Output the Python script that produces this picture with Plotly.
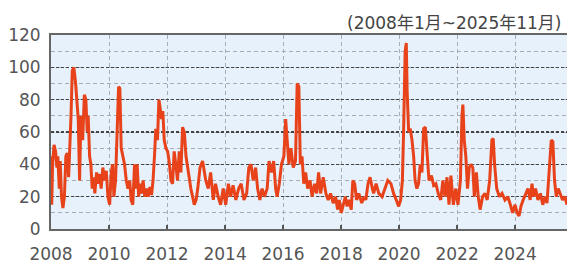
import plotly.graph_objects as go

dates = [
    "2008-01-01","2008-01-10","2008-01-21","2008-02-08","2008-02-28","2008-03-15","2008-03-27","2008-04-14",
    "2008-04-26","2008-05-12","2008-05-30","2008-06-18","2008-07-06","2008-07-23","2008-08-10","2008-08-26",
    "2008-09-09","2008-09-25","2008-10-15","2008-11-06","2008-11-23","2008-12-09","2008-12-26","2009-01-12",
    "2009-02-03","2009-02-24","2009-03-15","2009-04-01","2009-04-13","2009-05-01","2009-05-17","2009-06-03",
    "2009-06-21","2009-07-06","2009-07-28","2009-08-13","2009-09-03","2009-09-24","2009-10-15","2009-11-06",
    "2009-11-27","2009-12-18","2010-01-09","2010-01-29","2010-02-15","2010-03-03","2010-03-24","2010-04-13",
    "2010-05-01","2010-05-17","2010-06-03","2010-06-24","2010-07-15","2010-08-06","2010-08-27","2010-09-18",
    "2010-10-06","2010-10-27","2010-11-18","2010-12-06","2010-12-21","2011-01-09","2011-01-24","2011-02-15",
    "2011-03-06","2011-03-27","2011-04-18","2011-05-09","2011-05-30","2011-06-20","2011-07-09","2011-07-27",
    "2011-08-13","2011-09-03","2011-09-21","2011-10-06","2011-10-24","2011-11-09","2011-11-27","2011-12-18",
    "2012-01-09","2012-01-27","2012-02-20","2012-03-11","2012-03-31","2012-04-21","2012-05-12","2012-06-03",
    "2012-06-24","2012-07-15","2012-08-06","2012-08-27","2012-09-17","2012-10-06","2012-10-27","2012-11-18",
    "2012-12-09","2013-01-01","2013-01-22","2013-02-20","2013-03-24","2013-05-03","2013-06-03","2013-07-03",
    "2013-08-06","2013-09-03","2013-10-06","2013-11-06","2013-12-09","2014-01-09","2014-02-12","2014-03-12",
    "2014-04-12","2014-05-17","2014-06-21","2014-07-23","2014-08-27","2014-09-30","2014-10-27","2014-11-24",
    "2014-12-21","2015-01-21","2015-02-15","2015-03-15","2015-04-12","2015-05-12","2015-06-15","2015-07-09",
    "2015-08-09","2015-09-05","2015-09-30","2015-10-18","2015-11-15","2015-12-12","2016-01-12","2016-02-03",
    "2016-02-24","2016-03-15","2016-04-09","2016-05-09","2016-06-06","2016-06-27","2016-07-18","2016-08-06",
    "2016-08-27","2016-09-18","2016-10-12","2016-11-06","2016-12-06","2017-01-01","2017-02-01","2017-02-27",
    "2017-03-24","2017-04-18","2017-05-21","2017-06-24","2017-07-23","2017-08-21","2017-09-24","2017-10-24",
    "2017-11-18","2017-12-09","2018-01-03","2018-01-30","2018-02-24","2018-03-18","2018-04-12","2018-05-09",
    "2018-05-29","2018-06-21","2018-07-15","2018-08-12","2018-09-18","2018-10-15","2018-11-09","2018-12-06",
    "2019-01-01","2019-01-30","2019-02-15","2019-03-18","2019-04-21","2019-06-01","2019-07-09","2019-08-12",
    "2019-09-21","2019-10-24","2019-11-27","2019-12-27","2020-01-21","2020-02-12","2020-02-27","2020-03-18",
    "2020-04-01","2020-04-12","2020-05-01","2020-05-21","2020-06-12","2020-07-03","2020-07-21","2020-08-12",
    "2020-09-03","2020-09-24","2020-10-15","2020-11-06","2020-11-27","2020-12-18","2021-01-12","2021-02-12",
    "2021-03-12","2021-04-09","2021-05-09","2021-06-09","2021-07-06","2021-08-01","2021-08-27","2021-09-21",
    "2021-10-15","2021-11-15","2021-12-15","2022-01-12","2022-02-12","2022-03-03","2022-03-15","2022-04-01",
    "2022-04-21","2022-05-12","2022-06-03","2022-06-24","2022-07-18","2022-08-06","2022-09-01","2022-09-24",
    "2022-10-18","2022-11-18","2022-12-18","2023-01-15","2023-02-15","2023-03-15","2023-04-01","2023-04-18",
    "2023-05-15","2023-06-18","2023-07-21","2023-08-27","2023-10-01","2023-11-03","2023-12-01","2024-01-01",
    "2024-01-27","2024-02-20","2024-03-15","2024-04-12","2024-05-12","2024-06-12","2024-07-09","2024-08-01",
    "2024-08-21","2024-09-15","2024-10-15","2024-11-15","2024-12-15","2025-01-12","2025-02-06","2025-03-06",
    "2025-04-01","2025-04-21","2025-05-12","2025-06-03","2025-06-27","2025-07-21","2025-08-21","2025-09-21",
    "2025-10-15",
]

values = [
    45, 15, 40, 52, 48, 38, 45, 25,
    42, 20, 13, 20, 45, 47, 32, 50,
    70, 98, 100, 90, 78, 68, 30, 70,
    55, 83, 80, 60, 70, 45, 40, 25,
    32, 22, 35, 28, 34, 25, 38, 30,
    36, 20, 15, 35, 40, 20, 30, 60,
    88, 87, 50, 45, 40, 30, 25, 30,
    18, 15, 40, 25, 40, 20, 28, 22,
    30, 20, 25, 20, 26, 21, 30, 45,
    62, 55, 80, 75, 68, 73, 55, 50,
    48, 42, 30, 28, 48, 40, 30, 48,
    35, 63, 60, 45, 38, 30, 25, 20,
    15, 18, 25, 38, 42, 30, 25, 35,
    18, 28, 20, 15, 25, 15, 28, 20,
    27, 18, 25, 28, 18, 22, 38, 40,
    30, 38, 25, 18, 25, 20, 25, 42,
    35, 42, 25, 20, 28, 40, 45, 68,
    55, 40, 50, 38, 42, 90, 88, 40,
    45, 28, 35, 25, 30, 20, 28, 22,
    35, 22, 32, 22, 18, 22, 16, 20,
    12, 18, 10, 15, 20, 14, 18, 12,
    30, 28, 18, 22, 16, 20, 18, 28,
    32, 25, 22, 28, 22, 20, 25, 30,
    28, 22, 18, 14, 18, 30, 60, 110,
    115, 85, 60, 62, 55, 45, 30, 25,
    28, 40, 35, 62, 63, 45, 30, 33,
    27, 28, 22, 18, 30, 20, 32, 15,
    33, 15, 25, 15, 30, 70, 77, 55,
    45, 25, 38, 40, 38, 20, 35, 20,
    12, 20, 22, 18, 30, 55, 56, 40,
    25, 20, 22, 18, 20, 15, 10, 15,
    10, 8, 14, 18, 22, 25, 18, 28,
    20, 25, 18, 22, 15, 20, 16, 35,
    55, 54, 30, 20, 25, 22, 18, 20,
    15,
]

y_ticks = [0, 20, 40, 60, 80, 100, 120]
subtitle = "(2008年1月~2025年11月)"

FONT = "DejaVu Sans, Noto Sans CJK JP, sans-serif"

fig = go.Figure()
fig.add_trace(go.Scatter(
    x=dates, y=values, mode="lines",
    line=dict(color="#e8421a", width=3),
    hoverinfo="skip", showlegend=False,
))

fig.update_layout(
    width=567, height=264,
    margin=dict(l=51, r=0, t=35, b=33),
    paper_bgcolor="white",
    plot_bgcolor="#e7f1fb",
    font=dict(family=FONT, size=17, color="#555"),
    showlegend=False,
    annotations=[dict(
        text=subtitle, xref="paper", yref="paper",
        x=0.993, y=1.06, xanchor="right", yanchor="middle",
        showarrow=False, font=dict(family=FONT, size=17, color="#444"),
    )],
)

fig.update_xaxes(
    type="date",
    range=["2008-01-01", "2025-10-16"],
    tick0="2008-01-01", dtick="M24", tickformat="%Y",
    ticks="inside", ticklen=4, tickwidth=1.5, tickcolor="#555",
    showgrid=True, gridcolor="#a9adb3", griddash="4px,3px", gridwidth=1,
    showline=True, linecolor="#666", linewidth=2, mirror=True,
    zeroline=False, ticklabelstandoff=9,
    tickfont=dict(family=FONT, size=17, color="#555"),
)

fig.update_yaxes(
    range=[0, 120], tickvals=y_ticks,
    showgrid=True, gridcolor="#444", griddash="3px,2px", gridwidth=1.5,
    minor=dict(dtick=10, showgrid=True, gridcolor="#a9adb3", griddash="4px,3px", gridwidth=1),
    showline=True, linecolor="#666", linewidth=2,
    zeroline=False, ticks="", ticklabelstandoff=5,
    tickfont=dict(family=FONT, size=17, color="#555"),
)

fig.write_html(
    "out.html",
    config={"displayModeBar": False, "staticPlot": True},
    post_script="document.body.style.margin='0';document.body.style.overflow='hidden';",
)
